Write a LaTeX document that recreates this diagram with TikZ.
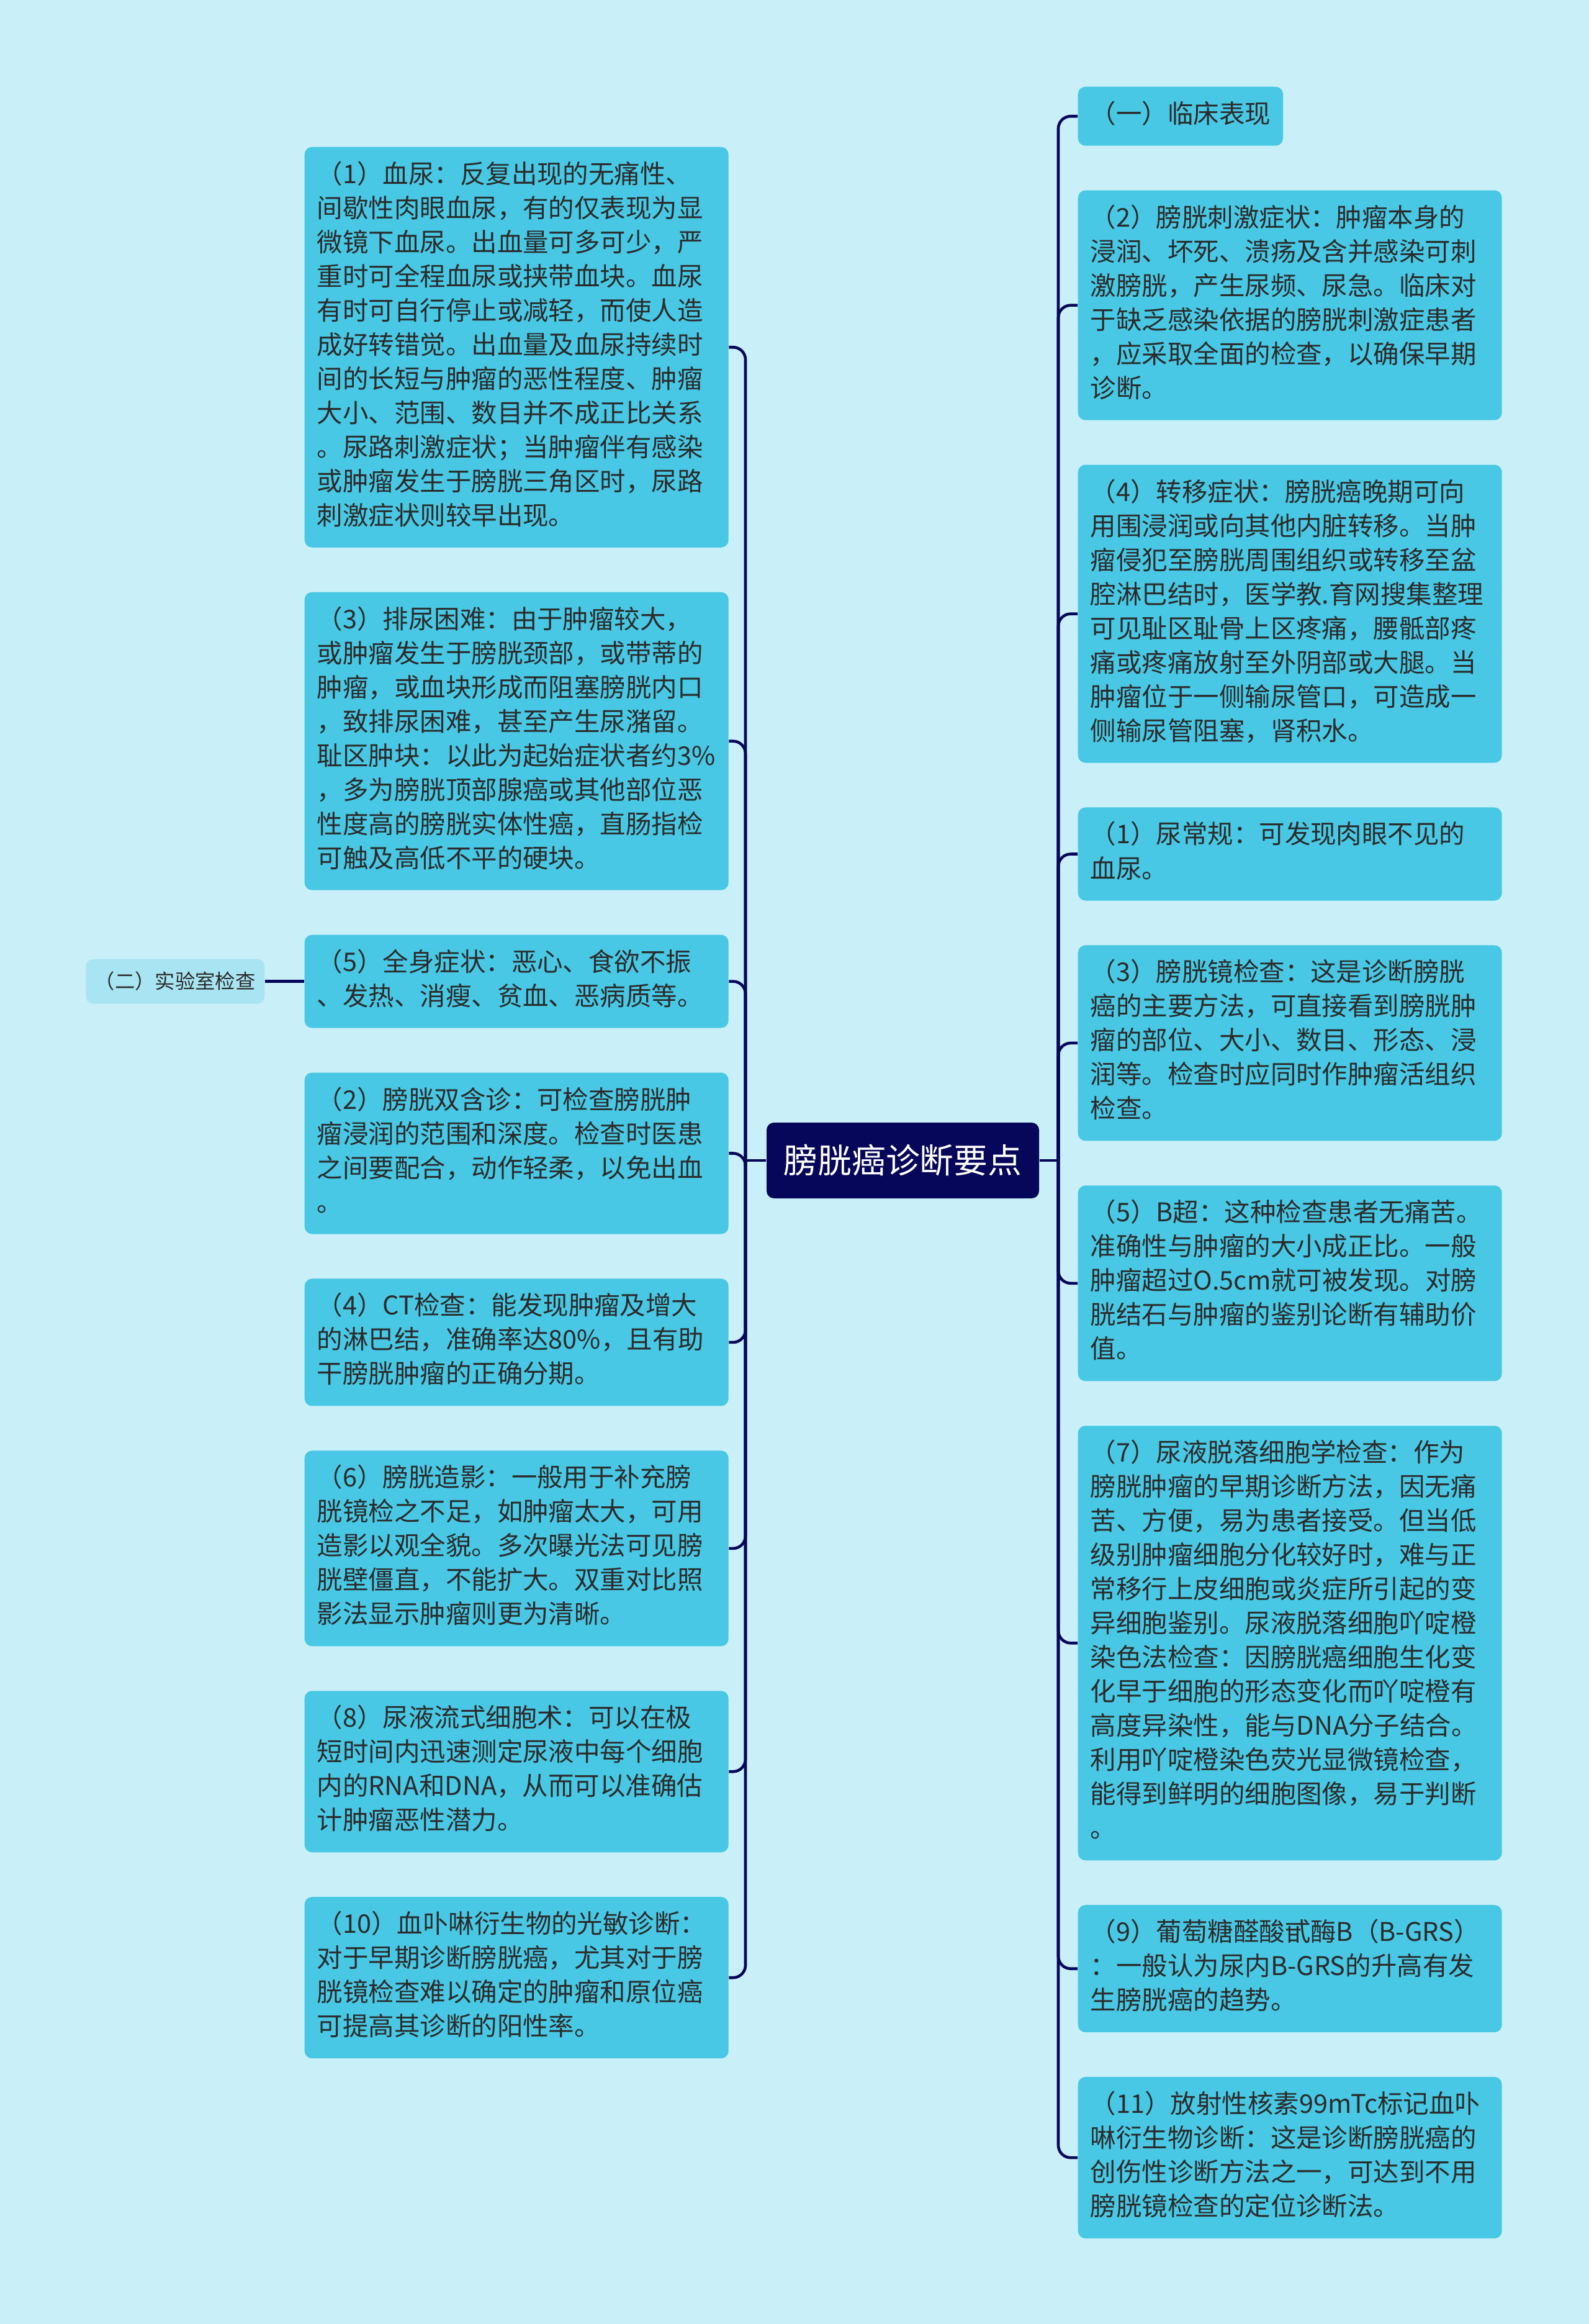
\documentclass[tikz,border=0pt]{standalone}
\usepackage{fontspec}
\setmainfont{Noto Sans CJK SC}
\usetikzlibrary{positioning}
\definecolor{bgblue}{HTML}{C9F0F8}
\definecolor{leafblue}{HTML}{48C8E4}
\definecolor{labblue}{HTML}{A8E4F2}
\definecolor{navy}{HTML}{06065A}
\definecolor{inkgray}{HTML}{2B2B2B}
\tikzstyle{root} = [rectangle, rounded corners=0.12cm, fill=navy, text=white, minimum width=4.39cm, minimum height=1.22cm, font=\fontsize{15.6pt}{18pt}\selectfont]
\tikzstyle{leaf} = [rectangle, rounded corners=0.12cm, fill=leafblue, text=inkgray, inner xsep=0.2cm, inner ysep=0.2cm, font=\fontsize{11.8pt}{15.65pt}\selectfont, execute at begin node=\strut, execute at end node=\strut]
\tikzstyle{leafw} = [leaf, text width=6.43cm, align=left]
\tikzstyle{sub} = [rectangle, rounded corners=0.12cm, fill=labblue, text=inkgray, minimum width=2.88cm, minimum height=0.72cm, font=\fontsize{9.2pt}{11pt}\selectfont]
\tikzstyle{link} = [line width=1.3pt, draw=navy, rounded corners=0.2cm]

\begin{document}
\begin{tikzpicture}[node distance=0.705cm]
  \fill [bgblue] (0,0) rectangle (25.6,-37.43);
  \useasboundingbox (0,0) rectangle (25.6,-37.43);

  \node (root) [root] at (14.545,-18.69) {膀胱癌诊断要点};
  \coordinate (lt) at (12.01,-18.69);
  \coordinate (rt) at (17.05,-18.69);

  % left column
  \node (c1) [leafw, anchor=north west] at (4.90,-2.36) {（1）血尿：反复出现的无痛性、\\间歇性肉眼血尿，有的仅表现为显\\微镜下血尿。出血量可多可少，严\\重时可全程血尿或挟带血块。血尿\\有时可自行停止或减轻，而使人造\\成好转错觉。出血量及血尿持续时\\间的长短与肿瘤的恶性程度、肿瘤\\大小、范围、数目并不成正比关系\\。尿路刺激症状；当肿瘤伴有感染\\或肿瘤发生于膀胱三角区时，尿路\\刺激症状则较早出现。};
  \node (c3) [leafw, below=of c1] {（3）排尿困难：由于肿瘤较大，\\或肿瘤发生于膀胱颈部，或带蒂的\\肿瘤，或血块形成而阻塞膀胱内口\\，致排尿困难，甚至产生尿潴留。\\耻区肿块：以此为起始症状者约3\%\\，多为膀胱顶部腺癌或其他部位恶\\性度高的膀胱实体性癌，直肠指检\\可触及高低不平的硬块。};
  \node (c5) [leafw, below=of c3] {（5）全身症状：恶心、食欲不振\\、发热、消瘦、贫血、恶病质等。};
  \node (e2) [leafw, below=of c5] {（2）膀胱双含诊：可检查膀胱肿\\瘤浸润的范围和深度。检查时医患\\之间要配合，动作轻柔，以免出血\\。};
  \node (e4) [leafw, below=of e2] {（4）CT检查：能发现肿瘤及增大\\的淋巴结，准确率达80\%，且有助\\干膀胱肿瘤的正确分期。};
  \node (e6) [leafw, below=of e4] {（6）膀胱造影：一般用于补充膀\\胱镜检之不足，如肿瘤太大，可用\\造影以观全貌。多次曝光法可见膀\\胱壁僵直，不能扩大。双重对比照\\影法显示肿瘤则更为清晰。};
  \node (e8) [leafw, below=of e6] {（8）尿液流式细胞术：可以在极\\短时间内迅速测定尿液中每个细胞\\内的RNA和DNA，从而可以准确估\\计肿瘤恶性潜力。};
  \node (e10) [leafw, below=of e8] {（10）血卟啉衍生物的光敏诊断：\\对于早期诊断膀胱癌，尤其对于膀\\胱镜检查难以确定的肿瘤和原位癌\\可提高其诊断的阳性率。};
  \node (lab) [sub, left=0.63cm of c5] {（二）实验室检查};

  % right column
  \node (clin) [leaf, anchor=north west] at (17.36,-1.39) {（一）临床表现};
  \node (c2) [leafw, below=of clin.south west, anchor=north west] {（2）膀胱刺激症状：肿瘤本身的\\浸润、坏死、溃疡及含并感染可刺\\激膀胱，产生尿频、尿急。临床对\\于缺乏感染依据的膀胱刺激症患者\\，应采取全面的检查，以确保早期\\诊断。};
  \node (c4) [leafw, below=of c2] {（4）转移症状：膀胱癌晚期可向\\用围浸润或向其他内脏转移。当肿\\瘤侵犯至膀胱周围组织或转移至盆\\腔淋巴结时，医学教.育网搜集整理\\可见耻区耻骨上区疼痛，腰骶部疼\\痛或疼痛放射至外阴部或大腿。当\\肿瘤位于一侧输尿管口，可造成一\\侧输尿管阻塞，肾积水。};
  \node (e1) [leafw, below=of c4] {（1）尿常规：可发现肉眼不见的\\血尿。};
  \node (e3) [leafw, below=of e1] {（3）膀胱镜检查：这是诊断膀胱\\癌的主要方法，可直接看到膀胱肿\\瘤的部位、大小、数目、形态、浸\\润等。检查时应同时作肿瘤活组织\\检查。};
  \node (e5) [leafw, below=of e3] {（5）B超：这种检查患者无痛苦。\\准确性与肿瘤的大小成正比。一般\\肿瘤超过O.5cm就可被发现。对膀\\胱结石与肿瘤的鉴别论断有辅助价\\值。};
  \node (e7) [leafw, below=of e5] {（7）尿液脱落细胞学检查：作为\\膀胱肿瘤的早期诊断方法，因无痛\\苦、方便，易为患者接受。但当低\\级别肿瘤细胞分化较好时，难与正\\常移行上皮细胞或炎症所引起的变\\异细胞鉴别。尿液脱落细胞吖啶橙\\染色法检查：因膀胱癌细胞生化变\\化早于细胞的形态变化而吖啶橙有\\高度异染性，能与DNA分子结合。\\利用吖啶橙染色荧光显微镜检查，\\能得到鲜明的细胞图像，易于判断\\。};
  \node (e9) [leafw, below=of e7] {（9）葡萄糖醛酸甙酶B（B-GRS）\\：一般认为尿内B-GRS的升高有发\\生膀胱癌的趋势。};
  \node (e11) [leafw, below=of e9] {（11）放射性核素99mTc标记血卟\\啉衍生物诊断：这是诊断膀胱癌的\\创伤性诊断方法之一，可达到不用\\膀胱镜检查的定位诊断法。};

  % connectors
  \draw [link] (root.west) -- (lt);
  \draw [link] (lt) |- (c1.east);
  \draw [link] (lt) |- (c3.east);
  \draw [link] (lt) |- (c5.east);
  \draw [link] (lt) |- (e2.east);
  \draw [link] (lt) |- (e4.east);
  \draw [link] (lt) |- (e6.east);
  \draw [link] (lt) |- (e8.east);
  \draw [link] (lt) |- (e10.east);
  \draw [link] (lab) -- (c5);
  \draw [link] (root.east) -- (rt);
  \draw [link] (rt) |- (clin.west);
  \draw [link] (rt) |- (c2.west);
  \draw [link] (rt) |- (c4.west);
  \draw [link] (rt) |- (e1.west);
  \draw [link] (rt) |- (e3.west);
  \draw [link] (rt) |- (e5.west);
  \draw [link] (rt) |- (e7.west);
  \draw [link] (rt) |- (e9.west);
  \draw [link] (rt) |- (e11.west);
\end{tikzpicture}
\end{document}
